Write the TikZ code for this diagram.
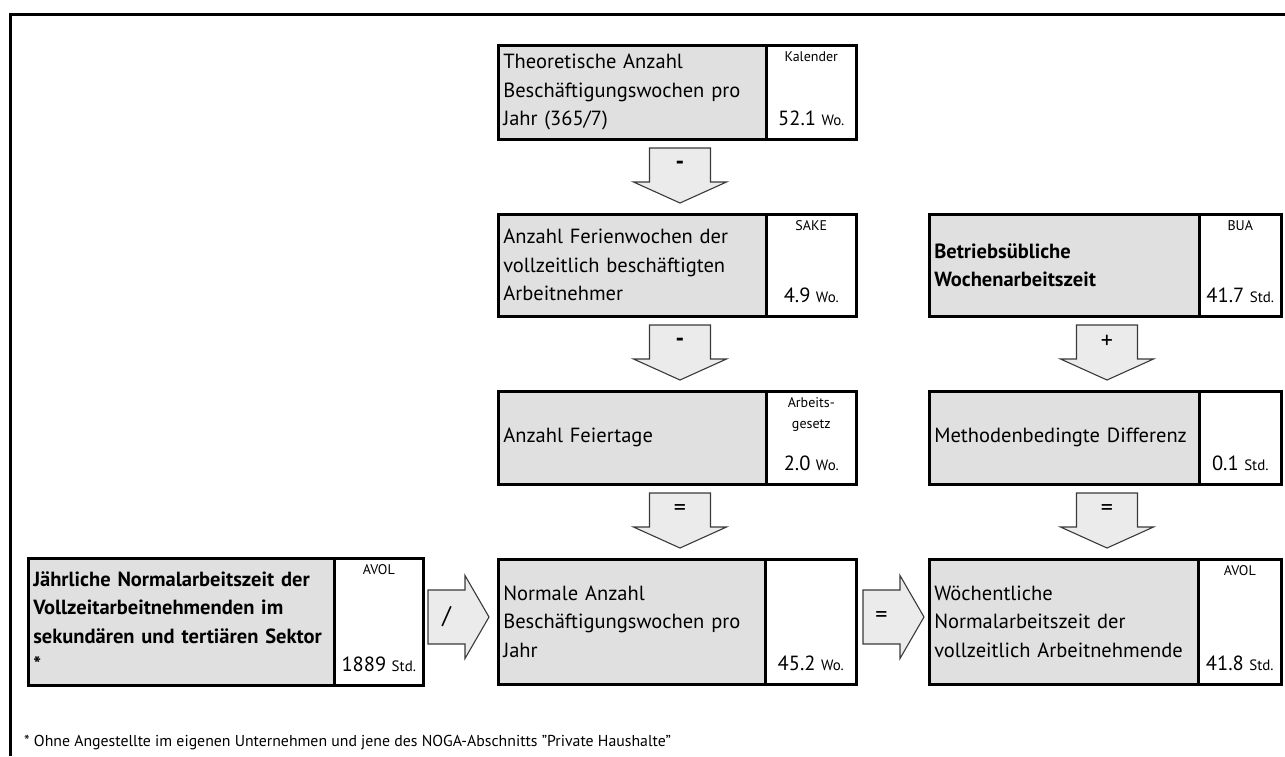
\documentclass[tikz,border=0pt]{standalone}
\usepackage{fontspec}
\setmainfont{PT Sans}
\usetikzlibrary{calc}
\definecolor{boxgray}{HTML}{E0E0E0}
\definecolor{arrowgray}{HTML}{EBEBEB}
\definecolor{arrowline}{HTML}{3A3A3A}
\tikzset{
  graypart/.style={draw=black, line width=2.6pt, fill=boxgray, rectangle, inner ysep=0pt, inner xsep=5pt,
    anchor=north west, align=left, font=\maintext},
  whitepart/.style={draw=black, line width=2.6pt, fill=white, rectangle, inner sep=0pt, anchor=north west},
  toplabel/.style={inner sep=0pt, anchor=north, align=center, font=\fontsize{14}{21}\selectfont},
  vallabel/.style={inner sep=0pt, anchor=base, font=\maintext},
  blockarrow/.style={draw=arrowline, line width=1.1pt, fill=arrowgray, line join=miter},
  arrowsign/.style={inner sep=0pt, font=\fontsize{24}{28}\selectfont},
}
\newcommand\maintext{\fontsize{20.5}{28.5}\selectfont}
\newcommand\unitsz[1]{{\fontsize{15}{17}\selectfont #1}}
% down block arrow: center x, top y, name, label
\newcommand\downblock[4]{%
  \draw[blockarrow] ({#1-30.5},#2) -- ({#1+30.5},#2) -- ({#1+30.5},{#2+34}) -- ({#1+46.5},{#2+34})
    -- (#1,{#2+55}) -- ({#1-46.5},{#2+34}) -- ({#1-30.5},{#2+34}) -- cycle;
  \node[arrowsign] (#3) at (#1,{#2+17}) {#4};}
% right block arrow: left x, center y, name, label
\newcommand\rightblock[4]{%
  \draw[blockarrow] (#1,{#2-27}) -- ({#1+37},{#2-27}) -- ({#1+37},{#2-41.5}) -- ({#1+61},#2)
    -- ({#1+37},{#2+41.5}) -- ({#1+37},{#2+27}) -- (#1,{#2+27}) -- cycle;
  \node[arrowsign] (#3) at ({#1+18.5},#2) {#4};}
\begin{document}
\begin{tikzpicture}[x=1pt,y=-1pt]
\useasboundingbox (0,0) rectangle (1285,756);
% frame
\draw[line width=3pt] (10,756) -- (10,14) -- (1285,14);

% ---- left column ----
\node[graypart, minimum width=268pt, minimum height=94pt, text width=258pt] (g1) at (497,44)
  {Theoretische Anzahl\\Beschäftigungswochen pro\\Jahr (365/7)};
\node[whitepart, minimum width=90pt, minimum height=94pt] (w1) at (765,44) {};
\node[toplabel] (w1t) at ($(w1.north)+(0,7)$) {Kalender};
\node[vallabel] (w1v) at ($(w1.south)+(0,-15)$) {52.1 \unitsz{Wo.}};

\node[graypart, minimum width=268pt, minimum height=102pt, text width=258pt] (g2) at (497,213)
  {Anzahl Ferienwochen der\\vollzeitlich beschäftigten\\Arbeitnehmer};
\node[whitepart, minimum width=90pt, minimum height=102pt] (w2) at (765,213) {};
\node[toplabel] (w2t) at ($(w2.north)+(0,7)$) {SAKE};
\node[vallabel] (w2v) at ($(w2.south)+(0,-15)$) {4.9 \unitsz{Wo.}};

\node[graypart, minimum width=268pt, minimum height=93pt, text width=258pt] (g3) at (497,390)
  {Anzahl Feiertage};
\node[whitepart, minimum width=90pt, minimum height=93pt] (w3) at (765,390) {};
\node[toplabel] (w3t) at ($(w3.north)+(0,7)$) {Arbeits-\\gesetz};
\node[vallabel] (w3v) at ($(w3.south)+(0,-15)$) {2.0 \unitsz{Wo.}};

\node[graypart, minimum width=267pt, minimum height=125pt, text width=257pt] (g4) at (497,558)
  {Normale Anzahl\\Beschäftigungswochen pro\\Jahr};
\node[whitepart, minimum width=91pt, minimum height=125pt] (w4) at (764,558) {};
\node[vallabel] (w4v) at ($(w4.south)+(0,-15)$) {45.2 \unitsz{Wo.}};

% ---- right column ----
\node[graypart, minimum width=270pt, minimum height=102pt, text width=260pt, font=\maintext\bfseries] (g5) at (928,213)
  {Betriebsübliche\\Wochenarbeitszeit};
\node[whitepart, minimum width=82pt, minimum height=102pt] (w5) at (1198,213) {};
\node[toplabel] (w5t) at ($(w5.north)+(0,7)$) {BUA};
\node[vallabel] (w5v) at ($(w5.south)+(0,-15)$) {41.7 \unitsz{Std.}};

\node[graypart, minimum width=270pt, minimum height=93pt, text width=260pt] (g6) at (928,390)
  {Methodenbedingte Differenz};
\node[whitepart, minimum width=82pt, minimum height=93pt] (w6) at (1198,390) {};
\node[vallabel] (w6v) at ($(w6.south)+(0,-15)$) {0.1 \unitsz{Std.}};

\node[graypart, minimum width=269pt, minimum height=125pt, text width=259pt] (g7) at (928,558)
  {Wöchentliche\\Normalarbeitszeit der\\vollzeitlich Arbeitnehmende};
\node[whitepart, minimum width=83pt, minimum height=125pt] (w7) at (1197,558) {};
\node[toplabel] (w7t) at ($(w7.north)+(0,7)$) {AVOL};
\node[vallabel] (w7v) at ($(w7.south)+(0,-15)$) {41.8 \unitsz{Std.}};

% ---- far left box ----
\node[graypart, minimum width=306pt, minimum height=127pt, text width=296pt, font=\maintext\bfseries] (g8) at (27,557)
  {Jährliche Normalarbeitszeit der\\Vollzeitarbeitnehmenden im\\sekundären und tertiären Sektor\\{}*};
\node[whitepart, minimum width=89pt, minimum height=127pt] (w8) at (333,557) {};
\node[toplabel] (w8t) at ($(w8.north)+(0,7)$) {AVOL};
\node[vallabel] (w8v) at ($(w8.south)+(0,-15)$) {1889 \unitsz{Std.}};

% ---- block arrows ----
\downblock{680}{148}{a1}{\textbf{-}}
\downblock{680}{325}{a2}{\textbf{-}}
\downblock{680}{493}{a3}{=}
\downblock{1107}{325}{a4}{+}
\downblock{1107}{493}{a5}{=}
\rightblock{428}{617}{a6}{/}
\rightblock{863}{617}{a7}{=}

% footnote
\node[anchor=west, inner sep=0pt, font=\fontsize{15.8}{18}\selectfont] (fn) at (24,743)
  {* Ohne Angestellte im eigenen Unternehmen und jene des NOGA-Abschnitts "Private Haushalte"};
\end{tikzpicture}
\end{document}
